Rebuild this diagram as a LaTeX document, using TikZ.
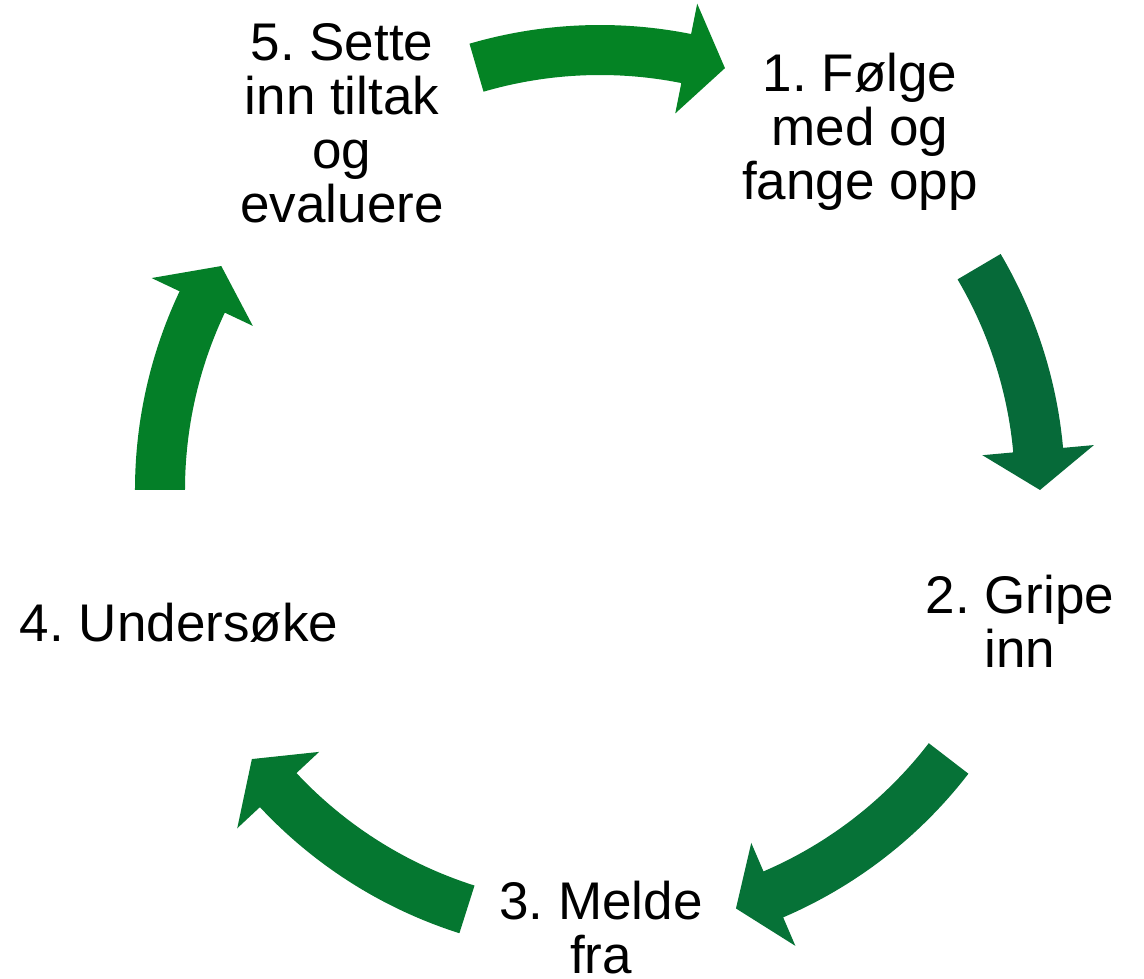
\documentclass[tikz,border=0pt]{standalone}
\usepackage{fontspec}
\setmainfont{Liberation Sans}
\frenchspacing
\definecolor{arrowtop}{RGB}{4,131,36}
\definecolor{arrowright}{RGB}{6,106,57}
\definecolor{arrowlowright}{RGB}{6,114,55}
\definecolor{arrowlowleft}{RGB}{5,119,48}
\definecolor{arrowleft}{RGB}{4,127,40}
\providecommand{\CycleArrow}[4]{
\fill[#4] (#1:465) arc[start angle=#1,end angle=#2,radius=465] -- (#2:496) -- (#3:440)
  -- (#2:384) -- (#2:415) arc[start angle=#2,end angle=#1,radius=415] -- cycle;
}
\tikzset{phase/.style={font=\fontsize{53}{54}\selectfont,align=center,inner sep=0pt,anchor=base}}
\begin{document}
\begin{tikzpicture}[x=1pt,y=1pt]
\useasboundingbox (-600,-489) rectangle (544,490);
\CycleArrow{106.3}{78.7}{73.5}{arrowtop}
\CycleArrow{30.5}{5.2}{0}{arrowright}
\CycleArrow{-37.6}{-66.8}{-72}{arrowlowright}
\CycleArrow{-107.6}{-137}{-142.3}{arrowlowleft}
\CycleArrow{180}{154.7}{149.4}{arrowleft}
\node[phase] (folge) at (260,290) {1. Følge\\med og\\fange opp};
\node[phase] (gripe) at (420,-178) {2. Gripe\\inn};
\node[phase] (melde) at (1,-483) {3. Melde\\fra};
\node[phase] (undersoke) at (-421,-152) {4. Undersøke};
\node[phase] (tiltak) at (-258,267) {5. Sette\\inn tiltak\\og\\evaluere};
\end{tikzpicture}
\end{document}
